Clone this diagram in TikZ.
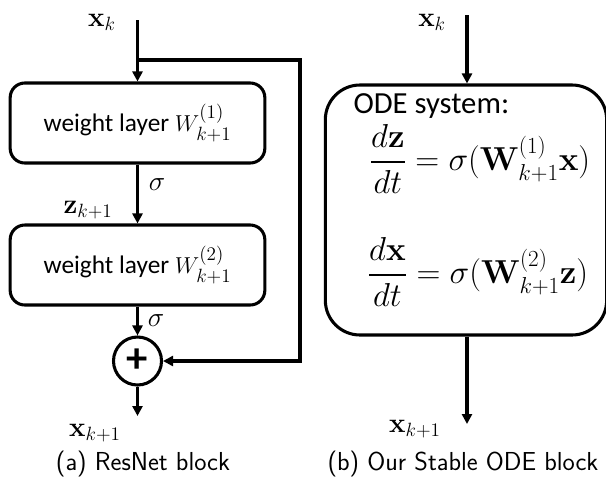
\documentclass[tikz,border=0pt]{standalone}
\usepackage{amsmath}
\usepackage[no-math]{fontspec}
\setmainfont{Carlito}
\usetikzlibrary{arrows.meta}
\begin{document}
\begin{tikzpicture}[x=0.75pt,y=-0.75pt,
  line width=2.3pt,
  arr/.style={-{Triangle[length=7.5pt,width=7.5pt]}},
  layerbox/.style={draw,rounded corners=11pt,minimum width=191pt,minimum height=60pt,
    inner sep=0pt,font=\fontsize{19}{23}\selectfont},
  lbl/.style={inner sep=0pt,font=\fontsize{22}{26}\selectfont},
  captext/.style={inner sep=0pt,font=\sffamily\fontsize{19.5}{23}\selectfont}]
\useasboundingbox (0,0) rectangle (606,483);

% ---- (a) residual block ----
\node[layerbox] (w1) at (137.5,123) {weight layer $W_{k+1}^{(1)}$};
\node[layerbox] (w2) at (137.5,265) {weight layer $W_{k+1}^{(2)}$};
\node[draw,circle,minimum size=36pt,inner sep=0pt,font=\bfseries\fontsize{32}{32}\selectfont] (plus) at (137.5,361) {\raisebox{1pt}{+}};
\coordinate (ina) at (137.5,20);
\coordinate (br) at (137.5,60);
\coordinate (fb) at (300,60);
\coordinate (outa) at (137.5,416);

\node[lbl] (xka) at (102,22) {$\mathbf{x}_k$};
\node[lbl] (s1) at (157,185) {$\sigma$};
\node[lbl] (zk) at (88,210) {$\mathbf{z}_{k+1}$};
\node[lbl] (s2) at (156,321) {$\sigma$};
\node[lbl] (xk1a) at (95,433) {$\mathbf{x}_{k+1}$};

\draw[arr] (ina) -- (w1.north);
\draw[arr] (w1.south) -- (w2.north);
\draw[arr] (w2.south) -- (plus.north);
\draw[arr] (br) -- (fb) |- (plus.east);
\draw[arr] (plus.south) -- (outa);

\node[captext] (capa) at (143,464) {(a) ResNet block};

% ---- (b) ODE block ----
\node[draw,rounded corners=26pt,minimum width=211pt,minimum height=187.5pt,inner sep=0pt] (ode) at (466,210) {};
\node[anchor=west,inner sep=0pt,font=\fontsize{23}{27}\selectfont] (title) at (352,106) {ODE system:};
\node[anchor=west,inner sep=0pt,font=\fontsize{23}{27}\selectfont] (eq1) at (368,159)
  {$\dfrac{d\mathbf{z}}{dt}=\sigma(\mathbf{W}_{k+1}^{(1)}\mathbf{x})$};
\node[anchor=west,inner sep=0pt,font=\fontsize{23}{27}\selectfont] (eq2) at (366,272)
  {$\dfrac{d\mathbf{x}}{dt}=\sigma(\mathbf{W}_{k+1}^{(2)}\mathbf{z})$};
\coordinate (inb) at (467,15);
\coordinate (outb) at (467,424);
\node[lbl] (xkb) at (432,22) {$\mathbf{x}_k$};
\node[lbl] (xk1b) at (415,429) {$\mathbf{x}_{k+1}$};
\draw[arr] (inb) -- (ode.north -| inb);
\draw[arr] (ode.south -| outb) -- (outb);

\node[captext] (capb) at (463,464) {(b) Our Stable ODE block};
\end{tikzpicture}
\end{document}
